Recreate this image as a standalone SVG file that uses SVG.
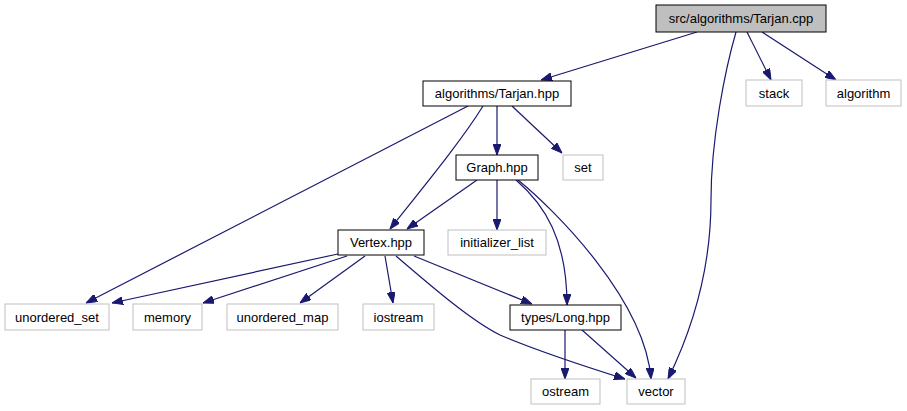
<svg xmlns="http://www.w3.org/2000/svg" width="907" height="411" viewBox="0 0 907 411">
<style>
.n rect{fill:#fff;stroke:#000;stroke-width:1}
.g rect{fill:#fff;stroke:#bfbfbf;stroke-width:1}
.root rect{fill:#bfbfbf;stroke:#000}
text{font-family:"Liberation Sans",Arial,sans-serif;font-size:13px;text-anchor:middle;fill:#000}
#edges path{fill:none;stroke:#191970;stroke-width:1.2;marker-end:url(#ah)}
</style>
<defs>
<marker id="ah" viewBox="0 0 11 8" refX="11" refY="4" markerWidth="11" markerHeight="8" markerUnits="userSpaceOnUse" orient="auto">
<path d="M0,0 L11,4 L0,8 z" fill="#191970" stroke="#191970" stroke-width="1"/>
</marker>
</defs>
<rect width="907" height="411" fill="#fff"/>
<g id="edges">
<path d="M697,32 L541,80"/>
<path d="M736,32 C725,70 711,140 711,200 C711,270 692,330 668,379"/>
<path d="M747,32 L771,80"/>
<path d="M762,32 L836,80"/>
<path d="M497,106 L497,155"/>
<path d="M512,106 L562,153"/>
<path d="M483,106 C462,140 425,185 390,229"/>
<path d="M468,106 L86,303"/>
<path d="M477,180 L407,229"/>
<path d="M497,180 L497,230"/>
<path d="M516,180 C545,205 567,240 567,305"/>
<path d="M518,180 C555,210 645,300 651,379"/>
<path d="M565,330 L565,379"/>
<path d="M582,330 L636,378"/>
<path d="M338,254 L112,303"/>
<path d="M347,256 L203,303"/>
<path d="M365,256 L300,303"/>
<path d="M385,256 L393,303"/>
<path d="M414,256 L532,304"/>
<path d="M396,256 C430,285 470,320 500,335 C540,352 590,368 625,379"/>
</g>
<g id="tarjan_cpp" class="n root"><rect x="656" y="5" width="170" height="27"/><text x="741" y="23">src/algorithms/Tarjan.cpp</text></g>
<g id="stack" class="g"><rect x="746" y="80" width="56" height="26"/><text x="774" y="97.5">stack</text></g>
<g id="algorithm" class="g"><rect x="826" y="80" width="75" height="26"/><text x="863.5" y="97.5">algorithm</text></g>
<g id="tarjan_hpp" class="n"><rect x="423" y="81" width="148" height="25"/><text x="497" y="98">algorithms/Tarjan.hpp</text></g>
<g id="graph_hpp" class="n"><rect x="456" y="155" width="82" height="25"/><text x="497" y="172">Graph.hpp</text></g>
<g id="set" class="g"><rect x="563" y="155" width="40" height="25"/><text x="583" y="172">set</text></g>
<g id="vertex_hpp" class="n"><rect x="338" y="230" width="86" height="25"/><text x="381" y="247">Vertex.hpp</text></g>
<g id="initializer_list" class="g"><rect x="448" y="230" width="98" height="25"/><text x="497" y="247">initializer_list</text></g>
<g id="unordered_set" class="g"><rect x="5" y="304" width="104" height="26"/><text x="57" y="321.5">unordered_set</text></g>
<g id="memory" class="g"><rect x="133" y="304" width="69" height="26"/><text x="167.5" y="321.5">memory</text></g>
<g id="unordered_map" class="g"><rect x="227" y="304" width="111" height="26"/><text x="282.5" y="321.5">unordered_map</text></g>
<g id="iostream" class="g"><rect x="363" y="304" width="71" height="26"/><text x="398.5" y="321.5">iostream</text></g>
<g id="long_hpp" class="n"><rect x="510" y="305" width="111" height="25"/><text x="565.5" y="322">types/Long.hpp</text></g>
<g id="ostream" class="g"><rect x="531" y="379" width="69" height="25"/><text x="565.5" y="396">ostream</text></g>
<g id="vector" class="g"><rect x="627" y="379" width="58" height="25"/><text x="656" y="396">vector</text></g>
</svg>
